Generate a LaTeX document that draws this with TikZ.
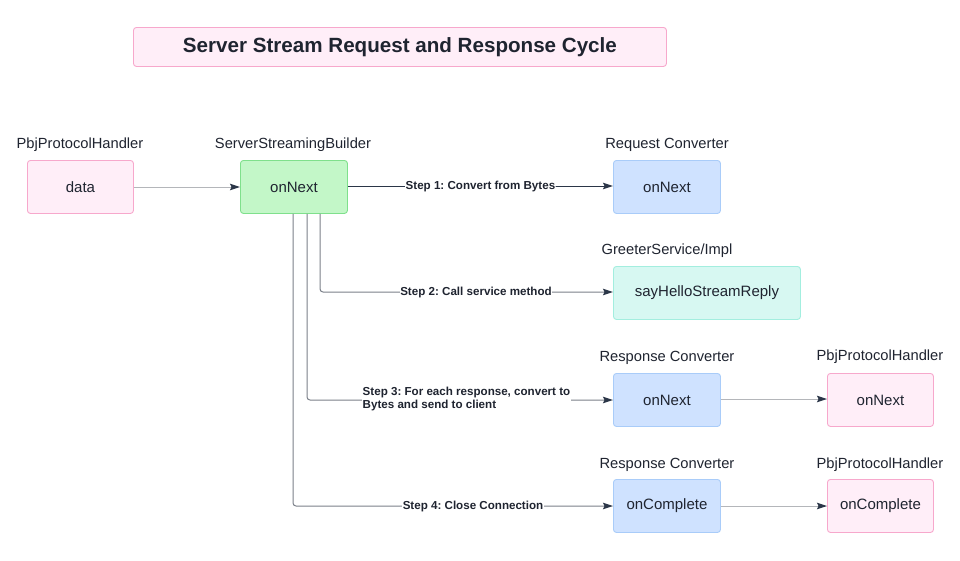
\documentclass[tikz,border=0pt]{standalone}
\usepackage{fontspec}
\setmainfont{Liberation Sans}
\usetikzlibrary{arrows.meta}
\frenchspacing
\definecolor{pinkfill}{HTML}{FFEEF8}
\definecolor{pinkdraw}{HTML}{F7A8CC}
\definecolor{greenfill}{HTML}{C3F7C8}
\definecolor{greendraw}{HTML}{7FE08C}
\definecolor{bluefill}{HTML}{CFE2FF}
\definecolor{bluedraw}{HTML}{A9CCF9}
\definecolor{tealfill}{HTML}{D7F8F2}
\definecolor{tealdraw}{HTML}{A3EEDF}
\definecolor{txt}{HTML}{1F2430}
\definecolor{lightline}{HTML}{B4B6BA}
\definecolor{midline}{HTML}{7C818A}
\definecolor{darkline}{HTML}{2B3648}
\tikzset{
  box/.style={draw, line width=0.9pt, rounded corners=3pt, minimum height=53pt, inner sep=0pt, font=\fontsize{15}{17}\selectfont, text=txt, anchor=north west},
  pinkbox/.style={box, fill=pinkfill, draw=pinkdraw},
  greenbox/.style={box, fill=greenfill, draw=greendraw},
  bluebox/.style={box, fill=bluefill, draw=bluedraw},
  tealbox/.style={box, fill=tealfill, draw=tealdraw},
  title/.style={font=\fontsize{14.7}{16}\selectfont, text=txt},
  steplbl/.style={font=\bfseries\fontsize{11.6}{13.5}\selectfont, text=txt, fill=white, inner sep=0.5pt},
  conn/.style={line width=1pt, -{Stealth[length=10pt,width=6.5pt,inset=1.5pt]}, arrows={[color=darkline]}, rounded corners=3pt},
}
\begin{document}
\begin{tikzpicture}[x=1pt,y=-1pt]
\useasboundingbox (0,0) rectangle (960,560);
\fill[white] (0,0) rectangle (960,560);
% title
\node[pinkbox, minimum width=533pt, minimum height=39pt, font=\bfseries\fontsize{20.6}{22}\selectfont] (ttl) at (133,27) {Server Stream Request and Response Cycle};
% boxes
\node[pinkbox, minimum width=106pt] (data) at (27,160) {data};
\node[greenbox, minimum width=107pt] (bld) at (240,160) {onNext};
\node[bluebox, minimum width=107pt] (req) at (613,160) {onNext};
\node[tealbox, minimum width=187pt] (svc) at (613,266) {sayHelloStreamReply};
\node[bluebox, minimum width=107pt] (rsp) at (613,373) {onNext};
\node[pinkbox, minimum width=106pt] (pnx) at (827,373) {onNext};
\node[bluebox, minimum width=107pt] (rsc) at (613,479) {onComplete};
\node[pinkbox, minimum width=106pt] (pcp) at (827,479) {onComplete};
% titles
\node[title] (t1) at (80,145) {PbjProtocolHandler};
\node[title] (t2) at (293,145) {ServerStreamingBuilder};
\node[title] (t3) at (667,145) {Request Converter};
\node[title] (t4) at (667,251) {GreeterService/Impl};
\node[title] (t5) at (667,358) {Response Converter};
\node[title] (t6) at (880,357) {PbjProtocolHandler};
\node[title] (t7) at (667,465) {Response Converter};
\node[title] (t8) at (880,465) {PbjProtocolHandler};
% connectors
\draw[conn, draw=lightline] (data.east |- 0,187) -- (bld.west |- 0,187);
\draw[conn, draw=darkline] (bld.east |- 0,186) -- node[steplbl]{Step 1: Convert from Bytes} (req.west |- 0,186);
\coordinate (c2) at (320,292);
\coordinate (c3) at (307,400);
\coordinate (c4) at (293,506);
\draw[conn, draw=midline] (bld.south -| c2) |- (svc.west |- c2);
\node[steplbl] (s2) at (476,292) {Step 2: Call service method};
\draw[conn, draw=midline] (bld.south -| c3) |- (rsp.west |- c3);
\node[steplbl, align=left, anchor=west] (s3) at (362,399) {Step 3: For each response, convert to\\Bytes and send to client};
\draw[conn, draw=midline] (bld.south -| c4) |- (rsc.west |- c4);
\node[steplbl] (s4) at (473,506) {Step 4: Close Connection};
\draw[conn, draw=lightline] (rsp.east |- 0,399) -- (pnx.west |- 0,399);
\draw[conn, draw=lightline] (rsc.east |- 0,506) -- (pcp.west |- 0,506);
\end{tikzpicture}
\end{document}
